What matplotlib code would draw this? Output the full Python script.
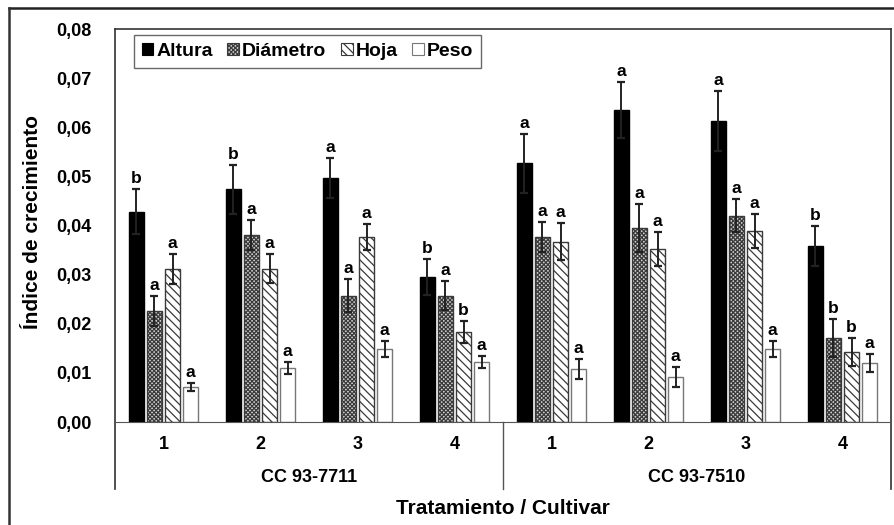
import matplotlib.pyplot as plt
import numpy as np
from matplotlib.lines import Line2D
from matplotlib.patches import Patch

plt.rcParams['font.family'] = ['Liberation Sans', 'DejaVu Sans']
plt.rcParams['font.weight'] = 'bold'
plt.rcParams['hatch.linewidth'] = 0.9

# Data: 8 groups (4 treatments x 2 cultivars)
treatments = ['1', '2', '3', '4', '1', '2', '3', '4']
cultivars = ['CC 93-7711', 'CC 93-7510']
series = ['Altura', 'Diámetro', 'Hoja', 'Peso']

altura = [0.0428, 0.0474, 0.0497, 0.0295, 0.0527, 0.0635, 0.0613, 0.0358]
altura_err = [0.0046, 0.0050, 0.0041, 0.0037, 0.0060, 0.0057, 0.0061, 0.0041]
diametro = [0.0226, 0.0381, 0.0257, 0.0257, 0.0377, 0.0395, 0.0420, 0.0171]
diametro_err = [0.0031, 0.0030, 0.0034, 0.0030, 0.0030, 0.0049, 0.0034, 0.0039]
hoja = [0.0312, 0.0312, 0.0377, 0.0183, 0.0367, 0.0352, 0.0389, 0.0143]
hoja_err = [0.0031, 0.0030, 0.0026, 0.0023, 0.0038, 0.0035, 0.0035, 0.0028]
peso = [0.0071, 0.0110, 0.0149, 0.0122, 0.0108, 0.0092, 0.0149, 0.0120]
peso_err = [0.0008, 0.0012, 0.0016, 0.0012, 0.0020, 0.0020, 0.0016, 0.0018]

letters_altura = ['b', 'b', 'a', 'b', 'a', 'a', 'a', 'b']
letters_diametro = ['a', 'a', 'a', 'a', 'a', 'a', 'a', 'b']
letters_hoja = ['a', 'a', 'a', 'b', 'a', 'a', 'a', 'b']
letters_peso = ['a', 'a', 'a', 'a', 'a', 'a', 'a', 'a']

W, H = 895, 525
fig = plt.figure(figsize=(W / 100, H / 100), dpi=100)
ax = fig.add_axes([115 / W, (H - 422) / H, 776 / W, 393 / H])

x = np.arange(len(treatments)) + 0.5
pitch = 0.186
width = 0.152
styles = [
    dict(color='black', edgecolor='black', hatch=None),
    dict(color='#d0d0d0', edgecolor='#3a3a3a', hatch='xxxxxxxx'),
    dict(color='white', edgecolor='#3a3a3a', hatch='\\\\\\\\'),
    dict(color='white', edgecolor='#777777', hatch=None),
]
vals = [altura, diametro, hoja, peso]
errs = [altura_err, diametro_err, hoja_err, peso_err]
lets = [letters_altura, letters_diametro, letters_hoja, letters_peso]

for i, (v, e, l, st) in enumerate(zip(vals, errs, lets, styles)):
    xi = x + (i - 1.5) * pitch
    ax.bar(xi, v, width, color=st['color'], edgecolor=st['edgecolor'],
           hatch=st['hatch'], linewidth=1.0, zorder=2)
    ax.errorbar(xi, v, yerr=e, fmt='none', ecolor='#222222', elinewidth=1.4,
                capsize=3.2, capthick=1.6, zorder=3)
    for xx, vv, ee, ll in zip(xi, v, e, l):
        ax.annotate(ll, (xx, vv + ee), xytext=(0, 2), textcoords='offset points',
                    ha='center', va='bottom', fontsize=12.5, fontweight='bold')

ax.set_xlim(0, 8)
ax.set_ylim(0, 0.08)
ax.set_yticks(np.arange(0, 0.081, 0.01))
ax.set_yticklabels([f'{t:.2f}'.replace('.', ',') for t in np.arange(0, 0.081, 0.01)])
ax.tick_params(axis='y', length=0, pad=17, labelsize=13)
ax.set_xticks([])
for s in ['left', 'right']:
    ax.spines[s].set_visible(False)
ax.spines['top'].set_color('#333333')
ax.spines['bottom'].set_color('#555555')
ax.spines['top'].set_linewidth(1.2)

# frame lines extending below the axis
ybot = (422 - 489) / 393
for xa in [0, 1]:
    ax.plot([xa, xa], [ybot, 1], transform=ax.transAxes, color='#333333',
            lw=1.2, clip_on=False)
ax.plot([0.5, 0.5], [ybot, 0], transform=ax.transAxes, color='#555555',
        lw=1.0, clip_on=False)

trans = ax.get_xaxis_transform()
for xx, t in zip(x, treatments):
    ax.text(xx, -0.058, t, transform=trans, ha='center', va='center',
            fontsize=13, fontweight='bold')
for k, c in enumerate(cultivars):
    ax.text(2 + 4 * k, -0.142, c, transform=trans, ha='center', va='center',
            fontsize=13, fontweight='bold')

fig.text(503 / W, 1 - 508 / H, 'Tratamiento / Cultivar', ha='center',
         va='center', fontsize=15, fontweight='bold')
fig.text(33 / W, 1 - 222 / H, 'Índice de crecimiento', ha='center',
         va='center', rotation=90, fontsize=15, fontweight='bold')

handles = [Patch(facecolor=st['color'], edgecolor=st['edgecolor'],
                 hatch=st['hatch'], linewidth=0.8) for st in styles]
leg = ax.legend(handles, series, loc='upper left', ncol=4,
                bbox_to_anchor=((134 - 115) / 776, (422 - 35) / 393),
                borderaxespad=0, fancybox=False, edgecolor='#444444',
                handlelength=0.6, handleheight=0.6, handletextpad=0.15,
                columnspacing=0.75, prop={'weight': 'bold', 'size': 14},
                borderpad=0.4)
leg.get_frame().set_linewidth(1.0)

# outer frame (top and left edges)
fig.add_artist(Line2D([9 / W, 1], [1 - 8 / H, 1 - 8 / H], color='#222222', lw=1.8))
fig.add_artist(Line2D([9 / W, 9 / W], [0, 1 - 8 / H], color='#333333', lw=1.8))

fig.savefig('out.png', dpi=100)
